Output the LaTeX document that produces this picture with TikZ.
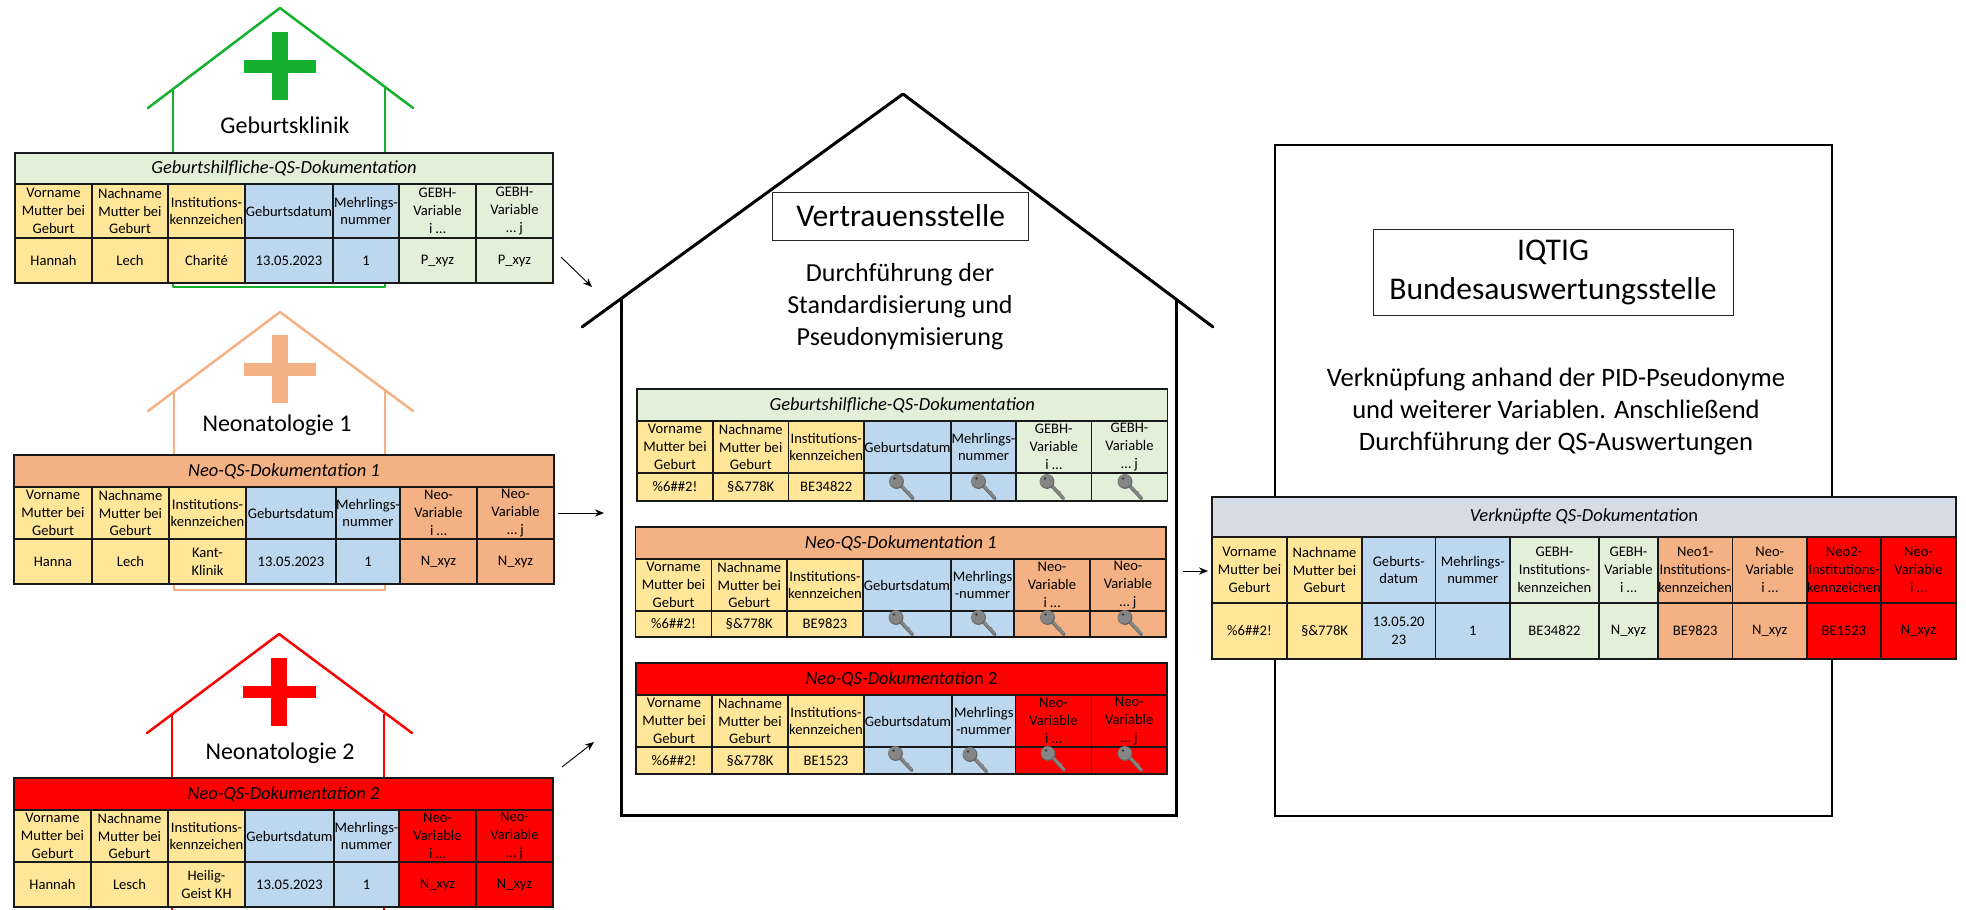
\documentclass[tikz,border=0pt]{standalone}
\usepackage{fontspec}
\setmainfont{Carlito}
\usetikzlibrary{arrows.meta}
\definecolor{cyel}{HTML}{FFE699}
\definecolor{cblu}{HTML}{BDD7EE}
\definecolor{cgrn}{HTML}{E2F0D9}
\definecolor{corg}{HTML}{F4B183}
\definecolor{cred}{HTML}{FF0000}
\definecolor{cgry}{HTML}{D6DCE5}
\definecolor{hgrn}{HTML}{14B02E}
\definecolor{keyg}{HTML}{858585}
\definecolor{keyd}{HTML}{666666}
\tikzset{
  qc/.style={draw=black!90,line width=0.65pt,inner sep=0pt,outer sep=0pt,align=center,
    font=\fontsize{7.3}{8.9}\selectfont,text=black},
  qt/.style={qc,font=\fontsize{9.25}{11}\selectfont},
  hroof/.style={line width=1.25pt,line cap=round,line join=round},
  label/.style={inner sep=0pt,align=center,font=\fontsize{12}{14}\selectfont},
  body/.style={inner sep=0pt,align=center,font=\fontsize{13.3}{16}\selectfont},
  bodyb/.style={body,font=\fontsize{13}{16}\selectfont},
  titlebox/.style={draw=black!85,line width=0.5pt,fill=white,inner sep=0pt,align=center,
    font=\fontsize{15.8}{19.5}\selectfont},
  flow/.style={-{Stealth[length=4.5pt,width=3.6pt]},line width=0.45pt,black},
  qskey/.pic={
    \draw[keyd,line width=1.7pt,line cap=round] (-3,-4)--(11.5,11.5);
    \draw[keyg,line width=1.3pt,line cap=round] (-3,-5)--(11,10.5);
    \draw[keyg,line width=0.9pt] (6,6.5)--(8.5,4.5);
    \fill[keyd] (-5,-5.5) circle (7.4);
    \fill[keyg] (-5.4,-6) circle (6.6);
    \fill[keyd!60!black] (-7,-8.5) circle (1.3);
  }
}
% name x1 y1 x2 y2 fill text
\newcommand\qcell[7]{%
  \pgfmathsetmacro\qw{(#4-#2)*0.5}\pgfmathsetmacro\qh{(#5-#3)*0.5}%
  \node[qc,fill=#6,minimum width=\qw pt,minimum height=\qh pt] (#1) at ({(#2+#4)/2},{(#3+#5)/2}) {#7};}
\newcommand\setxs[8]{\def\xa{#1}\def\xb{#2}\def\xc{#3}\def\xd{#4}\def\xe{#5}\def\xf{#6}\def\xg{#7}\def\xh{#8}}
\newcommand\setys[4]{\def\ya{#1}\def\yb{#2}\def\yc{#3}\def\yd{#4}}
% prefix, title, colour, mehrlings label, variable label
\newcommand\qshead[5]{%
  \pgfmathsetmacro\qw{(\xh-\xa)*0.5}\pgfmathsetmacro\qh{(\yb-\ya)*0.5}%
  \node[qt,fill=#3,minimum width=\qw pt,minimum height=\qh pt] (#1t) at ({(\xa+\xh)/2},{(\ya+\yb)/2}) {#2};
  \qcell{#1h1}{\xa}{\yb}{\xb}{\yc}{cyel}{Vorname\\Mutter bei\\Geburt}
  \qcell{#1h2}{\xb}{\yb}{\xc}{\yc}{cyel}{Nachname\\Mutter bei\\Geburt}
  \qcell{#1h3}{\xc}{\yb}{\xd}{\yc}{cyel}{Institutions-\\kennzeichen}
  \qcell{#1h4}{\xd}{\yb}{\xe}{\yc}{cblu}{Geburtsdatum}
  \qcell{#1h5}{\xe}{\yb}{\xf}{\yc}{cblu}{#4}
  \qcell{#1h6}{\xf}{\yb}{\xg}{\yc}{#3}{#5\\Variable\\i …}
  \qcell{#1h7}{\xg}{\yb}{\xh}{\yc}{#3}{#5\\Variable\\… j}}
% prefix colour c1 c2 c3 c4 c5 c6/c7
\newcommand\qsvals[8]{%
  \qcell{#1v1}{\xa}{\yc}{\xb}{\yd}{cyel}{#3}
  \qcell{#1v2}{\xb}{\yc}{\xc}{\yd}{cyel}{#4}
  \qcell{#1v3}{\xc}{\yc}{\xd}{\yd}{cyel}{#5}
  \qcell{#1v4}{\xd}{\yc}{\xe}{\yd}{cblu}{#6}
  \qcell{#1v5}{\xe}{\yc}{\xf}{\yd}{cblu}{#7}
  \qcell{#1v6}{\xf}{\yc}{\xg}{\yd}{#2}{#8}
  \qcell{#1v7}{\xg}{\yc}{\xh}{\yd}{#2}{#8}}
% colour apexx apexy leftx eavey rightx wallL wallR junctiony bottomy
\newcommand\qshouse[9]{%
  \draw[hroof,#1] (#4,#5)--(#2,#3)--(#6,#5);
  \draw[hroof,#1,line cap=butt] (#7,#9)--(#7,\hbot)--(#8,\hbot)--(#8,#9);}
\newcommand\qscross[9]{%
  \fill[#1] (#2,#4) rectangle (#3,#5);
  \fill[#1] (#6,#8) rectangle (#7,#9);}
\begin{document}
\begin{tikzpicture}[x=0.5pt,y=-0.5pt]
\useasboundingbox (0,0) rectangle (1966,910);

% ---- left houses
\def\hbot{287}
\qshouse{hgrn}{280}{8}{148}{108}{413}{173}{385}{88}
\qscross{hgrn}{272}{288}{32}{100}{244}{316}{60}{73}
\node[label] (ltitle1) at (285,125) {Geburtsklinik};
\def\hbot{590}
\qshouse{corg}{280}{312}{148}{411}{413}{174}{385}{391}
\qscross{corg}{272}{288}{335}{403}{244}{316}{363}{376}
\node[label] (ltitle2) at (277,425) {Neonatologie 1};
\def\hbot{915}
\qshouse{cred}{279}{634}{147}{733}{412}{172}{384}{714}
\qscross{cred}{271}{287}{658}{726}{243}{316}{686}{698}
\node[label] (ltitle3) at (280,753) {Neonatologie 2};

% ---- left tables
\setxs{15}{92}{168}{245}{333}{399}{476}{553}\setys{153}{184}{238}{283}
\qshead{a}{\textit{Geburtshilfliche-QS-Dokumentation}}{cgrn}{Mehrlings-\\nummer}{GEBH-}
\qsvals{a}{cgrn}{Hannah}{Lech}{Charité}{13.05.2023}{1}{P\_xyz}
\setxs{14}{92}{169}{246}{336}{400}{477}{554}\setys{455}{487}{539}{584}
\qshead{b}{\textit{Neo-QS-Dokumentation 1}}{corg}{Mehrlings-\\nummer}{Neo-}
\qsvals{b}{corg}{Hanna}{Lech}{Kant-\\Klinik}{13.05.2023}{1}{N\_xyz}
\setxs{14}{91}{168}{245}{334}{399}{476}{553}\setys{778}{810}{862}{907}
\qshead{c}{\textit{Neo-QS-Dokumentation 2}}{cred}{Mehrlings-\\nummer}{Neo-}
\qsvals{c}{cred}{Hannah}{Lesch}{Heilig-\\Geist KH}{13.05.2023}{1}{N\_xyz}

% ---- Vertrauensstelle
\draw[black,line width=1.5pt,line cap=round,line join=round] (582,327)--(903,94)--(1213,327);
\draw[black,line width=1.5pt,line join=miter] (621,299)--(621,815)--(1176.5,815)--(1176.5,299);
\node[titlebox,minimum width=128pt,minimum height=24pt] (vtitle) at (900.7,216) {Vertrauensstelle};
\node[bodyb] (vtext) at (900,307) {Durchführung der\\Standardisierung und\\Pseudonymisierung};

\setxs{637}{713}{788.5}{864}{951}{1016}{1091.5}{1167.5}\setys{389}{421}{473}{501}
\qshead{d}{\textit{Geburtshilfliche-QS-Dokumentation}}{cgrn}{Mehrlings-\\nummer}{GEBH-}
\qsvals{d}{cgrn}{\%6\#\#2!}{§\&778K}{BE34822}{}{}{}
\setxs{635.5}{711.5}{787}{863}{951}{1014}{1090}{1166}\setys{527}{559}{611}{637}
\qshead{e}{\textit{Neo-QS-Dokumentation 1}}{corg}{Mehrlings\\-nummer}{Neo-}
\qsvals{e}{corg}{\%6\#\#2!}{§\&778K}{BE9823}{}{}{}
\setxs{636}{712}{788}{864}{952}{1015.5}{1091.5}{1167}\setys{663}{695}{747}{774}
\qshead{f}{\textit{Neo-QS-Dokumentatio}n 2}{cred}{Mehrlings\\-nummer}{Neo-}
\qsvals{f}{cred}{\%6\#\#2!}{§\&778K}{BE1523}{}{}{}

\pic at (901.5,487) {qskey};
\pic at (983.5,487) {qskey};
\pic at (1052,487) {qskey};
\pic at (1130,487) {qskey};
\pic at (901,623) {qskey};
\pic at (983.5,623) {qskey};
\pic at (1052.5,623) {qskey};
\pic at (1130,623) {qskey};
\pic at (900.5,759) {qskey};
\pic at (975,760) {qskey};
\pic at (1053,759) {qskey};
\pic at (1130,759) {qskey};

% ---- IQTIG
\draw[black,line width=1.3pt,line join=miter] (1275,145) rectangle (1832,816);
\node[titlebox,minimum width=180pt,minimum height=43pt] (ititle) at (1553,272) {IQTIG\\Bundesauswertungsstelle};
\node[body] (itext) at (1556,412) {Verknüpfung anhand der PID-Pseudonyme\\und weiterer Variablen. Anschließend\\Durchführung der QS-Auswertungen};

\def\ya{497}\def\yb{537}\def\yc{603}\def\yd{659}
\node[qt,fill=cgry,minimum width=372pt,minimum height=20pt] (gt) at (1584,517) {\textit{Verknüpfte QS-Dokumentatio}n};
\qcell{g1}{1212}{\yb}{1287}{\yc}{cyel}{Vorname\\Mutter bei\\Geburt}
\qcell{g2}{1287}{\yb}{1362}{\yc}{cyel}{Nachname\\Mutter bei\\Geburt}
\qcell{g3}{1362}{\yb}{1435.5}{\yc}{cblu}{Geburts-\\datum}
\qcell{g4}{1435.5}{\yb}{1510}{\yc}{cblu}{Mehrlings-\\nummer}
\qcell{g5}{1510}{\yb}{1599}{\yc}{cgrn}{GEBH-\\Institutions-\\kennzeichen}
\qcell{g6}{1599}{\yb}{1658}{\yc}{cgrn}{GEBH-\\Variable\\i …}
\qcell{g7}{1658}{\yb}{1732.5}{\yc}{corg}{Neo1-\\Institutions-\\kennzeichen}
\qcell{g8}{1732.5}{\yb}{1807}{\yc}{corg}{Neo-\\Variable\\i …}
\qcell{g9}{1807}{\yb}{1881}{\yc}{cred}{Neo2-\\Institutions-\\kennzeichen}
\qcell{g10}{1881}{\yb}{1956}{\yc}{cred}{Neo-\\Variable\\i …}
\qcell{k1}{1212}{\yc}{1287}{\yd}{cyel}{\%6\#\#2!}
\qcell{k2}{1287}{\yc}{1362}{\yd}{cyel}{§\&778K}
\qcell{k3}{1362}{\yc}{1435.5}{\yd}{cblu}{13.05.20\\23}
\qcell{k4}{1435.5}{\yc}{1510}{\yd}{cblu}{1}
\qcell{k5}{1510}{\yc}{1599}{\yd}{cgrn}{BE34822}
\qcell{k6}{1599}{\yc}{1658}{\yd}{cgrn}{N\_xyz}
\qcell{k7}{1658}{\yc}{1732.5}{\yd}{corg}{BE9823}
\qcell{k8}{1732.5}{\yc}{1807}{\yd}{corg}{N\_xyz}
\qcell{k9}{1807}{\yc}{1881}{\yd}{cred}{BE1523}
\qcell{k10}{1881}{\yc}{1956}{\yd}{cred}{N\_xyz}

% ---- arrows
\coordinate (a1s) at (561,257); \coordinate (a1e) at (592,287);
\coordinate (a2s) at (558,513); \coordinate (a2e) at (604,513);
\coordinate (a3s) at (562,767); \coordinate (a3e) at (594,742);
\coordinate (a4s) at (1182.5,571); \coordinate (a4e) at (1208,571);
\draw[flow] (a1s) -- (a1e);
\draw[flow] (a2s) -- (a2e);
\draw[flow] (a3s) -- (a3e);
\draw[flow] (a4s) -- (a4e);
\end{tikzpicture}
\end{document}
